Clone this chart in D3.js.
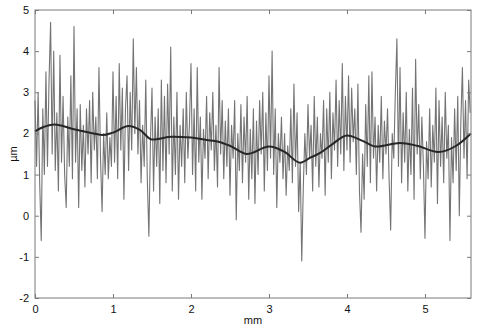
<!DOCTYPE html>
<html>
<head>
<meta charset="utf-8">
<script src="https://cdn.jsdelivr.net/npm/d3@7"></script>
<style>
  body { margin: 0; background: #fff; }
  svg text { font-family: "Liberation Sans", Arial, sans-serif; font-size: 11px; fill: #111; }
</style>
</head>
<body>
<div id="chart"></div>
<script>
const width = 482, height = 326;
const margin = { top: 10, right: 11, bottom: 28, left: 35 };

// raw profile, sampled every 0.02 mm starting at 0
const profileStep = 0.02;
const profile = [
  2.8, 1.2, 3.0, 0.8, -0.6, 2.6, 1.0, 3.5, 1.2, 3.3, 4.7, 1.5, 4.0, 1.1, 2.5, 0.6, 3.9, 1.3, 2.9, 1.0, 0.2, 2.4, 1.2, 3.4, 0.9,
  4.6, 1.3, 2.6, 0.2, 2.7, 1.1, 2.2, 0.7, 2.6, 1.5, 2.8, 0.8, 3.0, 1.6, 2.4, 0.9, 3.6, 1.4, 0.1, 2.0, 1.0, 2.5, 0.9, 1.9, 1.2,
  3.5, 1.3, 2.9, 0.9, 3.7, 1.6, 3.1, 0.4, 2.6, 3.4, 1.1, 3.0, 1.6, 4.3, 2.0, 3.6, 1.5, 2.8, 0.8, 2.2, 1.2, 3.3, 0.9, -0.5, 1.8,
  3.1, 0.6, 2.4, 1.2, 2.6, 0.3, 3.3, 1.1, 2.9, 0.8, 3.2, 1.5, 4.1, 0.6, 2.4, 1.0, 3.0, 0.4, 2.2, 1.2, 2.6, 0.8, 3.0, 1.4, 2.2,
  3.7, 1.0, 2.6, 0.6, 3.6, 1.3, 2.4, 0.4, 2.1, 1.4, 2.9, 0.9, 2.5, 1.6, 3.0, 1.1, 2.2, 0.7, 3.6, 1.5, 2.8, 0.9, 2.3, 1.2, 2.6,
  0.5, 2.2, 1.4, 2.8, -0.1, 2.0, 1.1, 2.7, 0.8, 2.4, 1.3, 2.9, 0.4, 2.1, 0.9, 2.6, 0.3, 2.3, 1.0, 2.8, 1.5, 3.0, 0.6, 2.5, 1.1,
  3.4, 1.4, 4.0, 1.0, 2.6, 0.2, 2.0, 1.3, 2.4, 0.9, 2.0, 0.5, 1.7, 1.1, 2.6, 0.8, 3.2, 1.2, 2.5, 0.1, 1.3, -1.1, 0.7, 2.0, 1.0,
  2.7, 1.4, 2.2, 0.6, 2.9, 1.2, 2.4, 0.7, 2.0, 1.4, 2.8, 0.5, 2.6, 1.3, 3.0, 0.9, 2.5, 1.6, 3.3, 1.2, 2.8, 1.5, 3.7, 1.1, 2.9,
  1.6, 3.4, 1.3, 3.1, 1.8, 2.6, 1.0, 3.2, 0.6, -0.4, 1.5, 0.4, 2.7, 1.2, 3.4, 0.8, 3.5, 1.4, 2.4, 0.6, 2.2, 1.3, 2.9, 0.9, 2.3,
  1.5, 2.6, 0.9, -0.35, 2.0, 1.4, 3.0, 4.3, 1.2, 3.6, 0.8, 2.5, 1.3, 3.0, 0.6, 2.1, 1.0, 3.1, 0.4, 3.8, 1.5, 2.7, 0.9, 2.4, 1.2,
  -0.55, 1.8, 0.9, 2.6, 0.7, 2.2, 1.3, 3.1, 0.3, 2.8, 1.2, 2.4, 0.8, 3.0, 1.4, 2.2, -0.6, 1.9, 0.8, 2.6, 1.1, 2.9, 0.0, 2.3, 3.6,
  1.4, 2.8, 0.9, 3.3, 2.5
];

// mean line (waviness)
const meanX = [0, 0.1, 0.25, 0.5, 0.75, 0.87, 1.0, 1.2, 1.35, 1.5, 1.76, 2.0, 2.2, 2.35, 2.5, 2.72, 3.0, 3.2, 3.4, 3.53, 3.65, 3.8, 4.0, 4.2, 4.38, 4.68, 4.9, 5.17, 5.4, 5.59];
const meanY = [2.05, 2.15, 2.22, 2.1, 2.0, 1.96, 2.02, 2.18, 2.08, 1.85, 1.92, 1.9, 1.84, 1.8, 1.7, 1.5, 1.68, 1.55, 1.29, 1.41, 1.52, 1.72, 1.95, 1.82, 1.68, 1.77, 1.7, 1.55, 1.7, 2.0];

const xTicks = [0, 1, 2, 3, 4, 5];
const yTicks = [-2, -1, 0, 1, 2, 3, 4, 5];
const xMax = 5.59;

const svg = d3.select("#chart")
    .append("svg")
    .attr("width", width)
    .attr("height", height);

const x = d3.scaleLinear().domain([0, xMax]).range([margin.left, width - margin.right]);
const y = d3.scaleLinear().domain([-2, 5]).range([height - margin.bottom, margin.top]);

// profile trace
const profileLine = d3.line()
    .x((d, i) => x(i * profileStep))
    .y(d => y(d));

svg.append("path")
    .datum(profile)
    .attr("fill", "none")
    .attr("stroke", "#747474")
    .attr("stroke-width", 1.1)
    .attr("stroke-linejoin", "round")
    .attr("d", profileLine);

// mean line
const meanLine = d3.line()
    .x((d, i) => x(meanX[i]))
    .y(d => y(d))
    .curve(d3.curveMonotoneX);

svg.append("path")
    .datum(meanY)
    .attr("fill", "none")
    .attr("stroke", "#262626")
    .attr("stroke-width", 2)
    .attr("d", meanLine);

// box + inward ticks on all four sides
const frame = "#7a7a7a";
const x0 = x.range()[0], x1 = x.range()[1], y0 = y.range()[0], y1 = y.range()[1];

svg.append("rect")
    .attr("x", x0).attr("y", y1)
    .attr("width", x1 - x0).attr("height", y0 - y1)
    .attr("fill", "none").attr("stroke", frame).attr("stroke-width", 1);

const bottomAxis = svg.append("g")
    .attr("transform", `translate(0,${y0})`)
    .call(d3.axisBottom(x).tickValues(xTicks).tickSize(-4).tickPadding(7).tickFormat(d3.format("d")));
const topAxis = svg.append("g")
    .attr("transform", `translate(0,${y1})`)
    .call(d3.axisTop(x).tickValues(xTicks).tickSize(-4).tickFormat(""));
const leftAxis = svg.append("g")
    .attr("transform", `translate(${x0},0)`)
    .call(d3.axisLeft(y).tickValues(yTicks).tickSize(-4).tickPadding(6).tickFormat(d => d < 0 ? "-" + Math.abs(d) : d));
const rightAxis = svg.append("g")
    .attr("transform", `translate(${x1},0)`)
    .call(d3.axisRight(y).tickValues(yTicks).tickSize(-4).tickFormat(""));

[bottomAxis, topAxis, leftAxis, rightAxis].forEach(g => {
    g.select(".domain").remove();
    g.selectAll(".tick line").attr("stroke", frame);
    g.selectAll("text").attr("fill", "#111").style("font-size", "11px");
});

// axis labels
svg.append("text")
    .attr("x", (x0 + x1) / 2)
    .attr("y", 324)
    .attr("text-anchor", "middle")
    .text("mm");

svg.append("text")
    .attr("transform", `translate(17,${(y0 + y1) / 2}) rotate(-90)`)
    .attr("text-anchor", "middle")
    .text("µm");
</script>
</body>
</html>
